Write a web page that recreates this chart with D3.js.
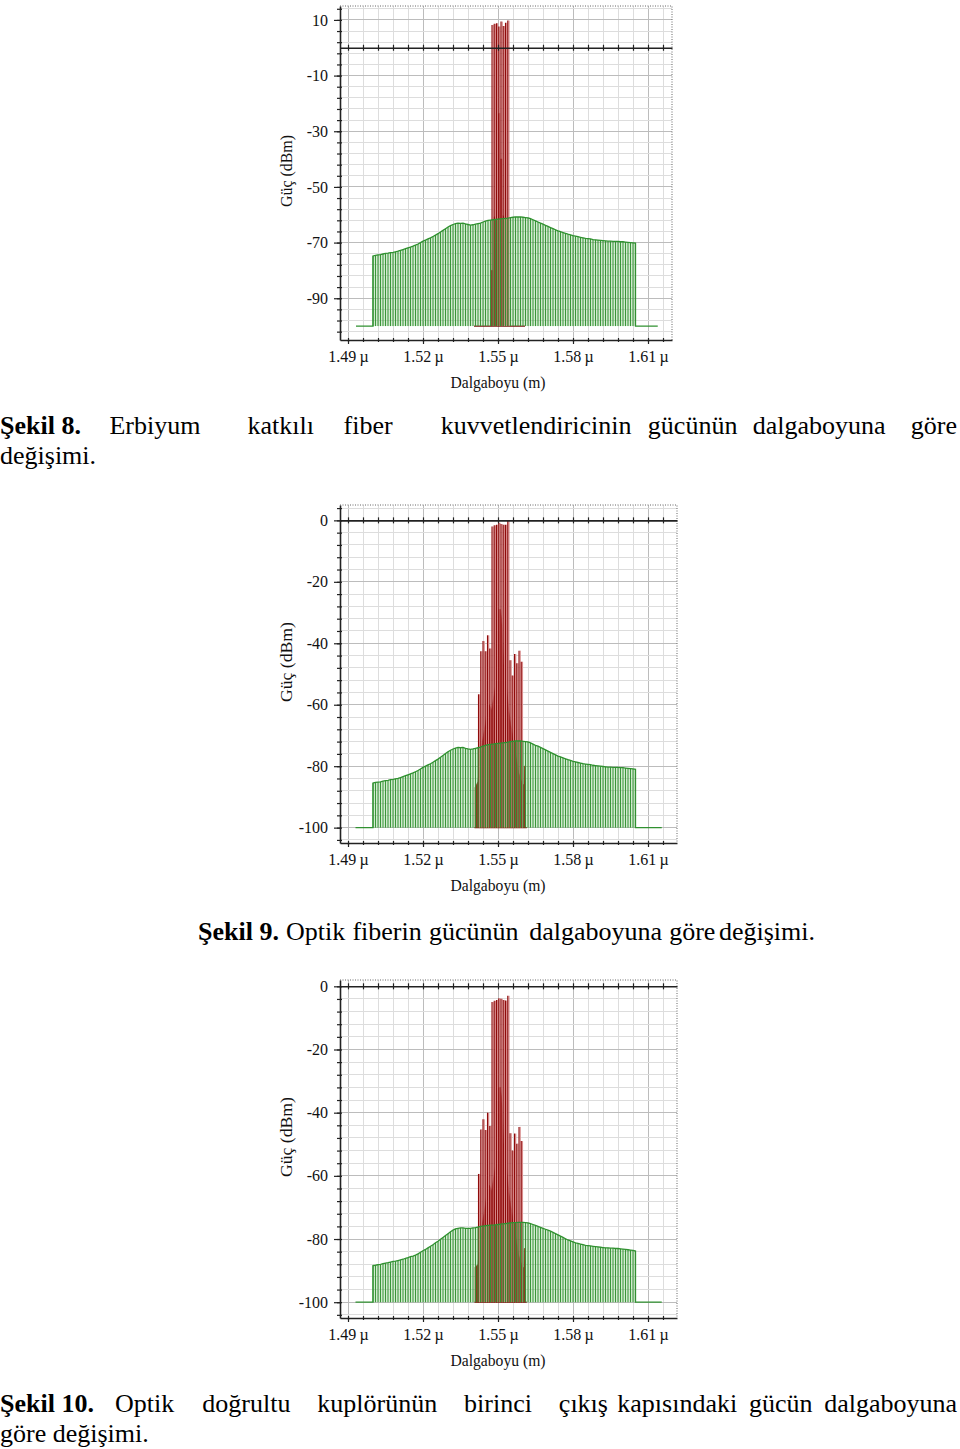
<!DOCTYPE html>
<html><head><meta charset="utf-8">
<script src="https://cdn.jsdelivr.net/npm/d3@7"></script>
<style>body{margin:0;background:#fff} svg{display:block}</style>
</head><body>
<svg id="root" width="960" height="1449"></svg>
<script>
// ---------------- DATA ----------------
// ASE (green) samples, 1 nm grid starting at 1500 nm
const greenStartNm = 1500;
const greenPower1 = [-74.8,-74.6,-74.4,-74.3,-74.1,-73.9,-73.8,-73.6,-73.5,-73.3,
 -73.1,-72.8,-72.5,-72.2,-71.9,-71.6,-71.3,-70.9,-70.5,-70.0,
 -69.5,-69.1,-68.7,-68.3,-67.8,-67.3,-66.8,-66.2,-65.6,-65.0,
 -64.4,-63.9,-63.5,-63.2,-63.0,-63.1,-63.0,-63.3,-63.5,-63.7,
 -63.6,-63.4,-63.2,-63.0,-62.6,-62.3,-62.0,-61.9,-61.8,-61.7,
 -61.6,-61.5,-61.4,-61.3,-61.2,-61.0,-60.9,-60.8,-60.8,-60.8,
 -60.9,-61.0,-61.1,-61.4,-61.8,-62.2,-62.6,-63.0,-63.4,-63.8,
 -64.2,-64.6,-65.0,-65.4,-65.8,-66.1,-66.4,-66.7,-67.0,-67.2,
 -67.5,-67.7,-67.9,-68.1,-68.3,-68.5,-68.6,-68.7,-68.9,-69.0,
 -69.1,-69.2,-69.3,-69.4,-69.5,-69.5,-69.6,-69.6,-69.6,-69.7,
 -69.7,-69.8,-69.9,-70.0,-70.1,-70.2];
const greenPower2 = [-85.5,-85.3,-85.2,-85.1,-84.9,-84.7,-84.6,-84.4,-84.3,-84.1,
 -84.0,-83.7,-83.4,-83.1,-82.8,-82.5,-82.2,-81.8,-81.4,-80.9,
 -80.4,-80.0,-79.6,-79.2,-78.7,-78.2,-77.7,-77.1,-76.5,-75.9,
 -75.3,-74.8,-74.4,-74.1,-73.9,-74.0,-73.9,-74.2,-74.4,-74.5,
 -74.4,-74.2,-74.0,-73.8,-73.5,-73.2,-73.0,-72.9,-72.8,-72.7,
 -72.6,-72.5,-72.4,-72.3,-72.2,-72.0,-71.9,-71.8,-71.8,-71.8,
 -71.9,-72.0,-72.1,-72.4,-72.8,-73.2,-73.5,-73.9,-74.3,-74.7,
 -75.1,-75.5,-75.9,-76.3,-76.7,-77.0,-77.3,-77.6,-77.9,-78.1,
 -78.4,-78.6,-78.8,-79.0,-79.2,-79.3,-79.4,-79.5,-79.7,-79.8,
 -79.9,-80.0,-80.1,-80.2,-80.3,-80.3,-80.4,-80.4,-80.4,-80.5,
 -80.5,-80.6,-80.7,-80.8,-80.9,-81.0];
const greenPower3 = [-88.4,-88.3,-88.1,-88.0,-87.8,-87.6,-87.5,-87.3,-87.1,-87.0,
 -86.8,-86.6,-86.4,-86.1,-85.9,-85.6,-85.4,-85.1,-84.7,-84.2,
 -83.7,-83.3,-82.8,-82.3,-81.8,-81.2,-80.7,-80.1,-79.5,-78.9,
 -78.3,-77.7,-77.2,-76.8,-76.6,-76.5,-76.5,-76.6,-76.6,-76.6,
 -76.5,-76.4,-76.2,-76.0,-75.9,-75.8,-75.7,-75.6,-75.6,-75.5,
 -75.4,-75.3,-75.2,-75.1,-75.0,-74.9,-74.8,-74.8,-74.7,-74.7,
 -74.7,-74.8,-74.9,-75.1,-75.4,-75.7,-76.0,-76.3,-76.6,-76.9,
 -77.2,-77.5,-77.9,-78.3,-78.7,-79.1,-79.5,-79.9,-80.3,-80.6,
 -80.9,-81.2,-81.4,-81.6,-81.8,-82.0,-82.1,-82.2,-82.3,-82.4,
 -82.5,-82.6,-82.7,-82.8,-82.8,-82.9,-82.9,-83.0,-83.0,-83.1,
 -83.2,-83.3,-83.4,-83.5,-83.6,-83.8];

// Signal channels and FWM products (red lines), nm
const lineWl = [1542.2,1543.1,1544.0,1544.9,1545.8,1546.7,1547.6,1548.5,1549.4,1550.3,
 1551.2,1552.1,1553.0,1553.9,1554.8,1555.7,1556.6,1557.5,1558.4,1559.3];
const linePower1 = [null,null,null,null,null,null,8.2,8.6,8.8,7.6,9.4,7.8,9.0,9.8,null,null,null,null,null,null];
const linePower2 = [-56.6,-42.6,-39.3,-42.6,-37.4,-41.7,-2.0,-1.6,-1.4,-0.8,-1.2,-1.4,-1.4,-0.2,-45.5,-50.5,-43.5,-46.5,-42.4,-46.0];
const linePower3 = [-59.4,-45.3,-42.1,-45.5,-40.0,-44.2,-5.0,-4.6,-4.3,-3.8,-3.9,-4.3,-4.5,-3.0,-46.5,-52.0,-46.6,-49.8,-44.5,-49.0];

// Modulated signal pedestal outline [nm, dBm]
const pedestal1 = [[1547.3,-100],[1547.3,-80],[1548.3,-80],[1548.4,-61],[1549.4,-60],[1549.5,-24],[1550.7,-23.5],[1550.8,-40],[1551.6,-40],[1551.7,-60],[1552.8,-61],[1552.8,-100]];
const pedestal2 = [[1540.8,-100],[1540.8,-87],[1542.0,-85],[1542.6,-80],[1543.4,-74],[1544.2,-70],[1545.0,-66],[1545.8,-61],[1546.6,-60],[1547.4,-62],[1548.2,-58],[1549.0,-54],[1549.8,-44],[1550.3,-29],[1551.0,-29],[1551.6,-34],[1552.2,-46],[1552.9,-50],[1553.6,-56],[1554.3,-62],[1555.0,-66],[1555.8,-70],[1556.6,-74],[1557.4,-78],[1558.2,-82],[1559.0,-84],[1559.8,-86],[1560.4,-86],[1560.5,-80],[1560.9,-80],[1561.0,-100]];
const pedestal3 = [[1540.8,-100],[1540.8,-89],[1542.0,-88],[1542.6,-83],[1543.4,-77],[1544.2,-73],[1545.0,-69],[1545.8,-64],[1546.6,-63],[1547.4,-65],[1548.2,-61],[1549.0,-57],[1549.8,-47],[1550.3,-32],[1551.0,-32],[1551.6,-37],[1552.2,-49],[1552.9,-53],[1553.6,-59],[1554.3,-65],[1555.0,-69],[1555.8,-73],[1556.6,-77],[1557.4,-81],[1558.2,-85],[1559.0,-87],[1559.8,-89],[1560.4,-89],[1560.5,-83],[1560.9,-83],[1561.0,-100]];

const redFloor1 = [1540.4, 1560.8];
const redFloor23 = [1540.6, 1561.5];
const greenFloor1 = [1493.2, 1613.9];
const greenFloor23 = [1493.0, 1615.5];
const floorPower = -100;

const xTickValues = [1490, 1520, 1550, 1580, 1610];
const xTickLabels = ["1.49\u2009µ", "1.52\u2009µ", "1.55\u2009µ", "1.58\u2009µ", "1.61\u2009µ"];
const yTicks1 = [10, -10, -30, -50, -70, -90];
const yTicks23 = [0, -20, -40, -60, -80, -100];
const xTitle = "Dalgaboyu (m)";
const yTitle = "Güç (dBm)";

const cap1Line1 = ["Şekil 8.", "Erbiyum", "katkılı", "fiber", "kuvvetlendiricinin", "gücünün", "dalgaboyuna", "göre"];
const cap1Line2 = ["değişimi."];
const cap2Line1 = ["Şekil 9.", "Optik", "fiberin", "gücünün", "dalgaboyuna", "göre", "değişimi."];
const cap3Line1 = ["Şekil 10.", "Optik", "doğrultu", "kuplörünün", "birinci", "çıkış", "kapısındaki", "gücün", "dalgaboyuna"];
const cap3Line2 = ["göre", "değişimi."];

// ---------------- DRAW ----------------
const svg = d3.select("#root");
const SERIF = "'Liberation Serif','Times New Roman',serif";

const charts = [
  {top:6, bottom:340, left:340, right:672, yDom:[-105,15], xDom:[1486.8,1619.6], green:greenPower1, lines:linePower1,
   ped:pedestal1, redFloor:redFloor1, greenFloor:greenFloor1, yTicks:yTicks1, yGridTop:14, yTitleY:171, yTitleLen:72},
  {top:505, bottom:843, left:340, right:677, yDom:[-105,5], xDom:[1486.8,1621.6], green:greenPower2, lines:linePower2,
   ped:pedestal2, redFloor:redFloor23, greenFloor:greenFloor23, yTicks:yTicks23, yGridTop:4, yTitleY:662, yTitleLen:80},
  {top:980, bottom:1318, left:340, right:677, yDom:[-105,2], xDom:[1486.8,1621.6], green:greenPower3, lines:linePower3,
   ped:pedestal3, redFloor:redFloor23, greenFloor:greenFloor23, yTicks:yTicks23, yGridTop:0, yTitleY:1137, yTitleLen:80}
];

charts.forEach(c => drawChart(c));

function drawChart(c) {
  const x = d3.scaleLinear().domain(c.xDom).range([c.left, c.right]);
  const y = d3.scaleLinear().domain(c.yDom).range([c.bottom, c.top]);
  const g = svg.append("g");

  // grid
  const xGrid = d3.range(1490, c.xDom[1], 6);
  const yGrid = d3.range(c.yGridTop, c.yDom[0], -4);
  const grid = g.append("g").attr("shape-rendering", "crispEdges");
  grid.selectAll(".vx").data(xGrid).join("line")
    .attr("x1", d => x(d)).attr("x2", d => x(d)).attr("y1", c.top).attr("y2", c.bottom)
    .attr("stroke", d => xTickValues.includes(d) ? "#bcbcbc" : "#dddddd");
  grid.selectAll(".hy").data(yGrid).join("line")
    .attr("y1", d => y(d)).attr("y2", d => y(d)).attr("x1", c.left).attr("x2", c.right)
    .attr("stroke", d => c.yTicks.includes(d) ? "#bcbcbc" : "#dddddd");

  // red floor
  g.append("line").attr("x1", x(c.redFloor[0])).attr("x2", x(c.redFloor[1]))
    .attr("y1", y(floorPower)).attr("y2", y(floorPower)).attr("stroke", "#7a1010").attr("stroke-width", 1.2);
  // red pedestal
  g.append("path").datum(c.ped)
    .attr("d", d3.line().x(d => x(d[0])).y(d => y(d[1])))
    .attr("fill", "#950404").attr("stroke", "#8b0000").attr("stroke-width", 0.6);
  // red lines
  const red = c.lines.map((p, i) => ({wl: lineWl[i], p})).filter(d => d.p !== null);
  g.selectAll(".rp").data(red).join("rect")
    .attr("x", d => x(d.wl) + 0.5).attr("width", 1.3)
    .attr("y", d => y(d.p)).attr("height", d => y(floorPower) - y(d.p))
    .attr("fill", "#d98e8e");
  g.selectAll(".rl").data(red).join("line")
    .attr("x1", d => x(d.wl)).attr("x2", d => x(d.wl))
    .attr("y1", d => y(d.p)).attr("y2", y(floorPower))
    .attr("stroke", "#8e0a0a").attr("stroke-width", 1.1);

  // green ASE
  const gd = c.green.map((p, i) => ({wl: greenStartNm + i, p}));
  g.append("path").datum(gd)
    .attr("d", d3.area().x(d => x(d.wl)).y0(y(floorPower)).y1(d => y(d.p)))
    .attr("fill", "rgb(115,190,105)").attr("fill-opacity", 0.32);
  g.selectAll(".gl").data(gd).join("line")
    .attr("x1", d => x(d.wl)).attr("x2", d => x(d.wl))
    .attr("y1", d => y(d.p)).attr("y2", y(floorPower))
    .attr("stroke", "rgb(48,145,48)").attr("stroke-width", 0.95);
  const env = [{wl: c.greenFloor[0], p: floorPower}, {wl: greenStartNm, p: floorPower}]
    .concat(gd)
    .concat([{wl: gd[gd.length - 1].wl, p: floorPower}, {wl: c.greenFloor[1], p: floorPower}]);
  g.append("path").datum(env)
    .attr("d", d3.line().x(d => x(d.wl)).y(d => y(d.p)))
    .attr("fill", "none").attr("stroke", "rgb(48,145,48)").attr("stroke-width", 1.3);

  // dotted top/right border
  g.append("path")
    .attr("d", `M${c.left},${c.top}H${c.right}V${c.bottom}`)
    .attr("fill", "none").attr("stroke", "#666").attr("stroke-dasharray", "1,1.5");

  // zero line with crossing ticks
  const zero = g.append("g").attr("transform", `translate(0,${y(0)})`)
    .call(d3.axisBottom(x).tickValues(xGrid).tickSize(3).tickSizeOuter(0).tickFormat(""));
  zero.select(".domain").attr("stroke", "#222").attr("stroke-width", 1.6);
  zero.selectAll(".tick line").attr("y1", -3).attr("stroke", "#222").attr("stroke-width", 1.2);

  // bottom axis: minor crossing ticks then labelled major ticks
  const bMinor = g.append("g").attr("transform", `translate(0,${c.bottom})`)
    .call(d3.axisBottom(x).tickValues(xGrid).tickSize(2).tickSizeOuter(0).tickFormat(""));
  bMinor.select(".domain").attr("stroke", "#222").attr("stroke-width", 1.6);
  bMinor.selectAll(".tick line").attr("y1", -2).attr("stroke", "#222").attr("stroke-width", 1.2);
  const bMajor = g.append("g").attr("transform", `translate(0,${c.bottom})`)
    .call(d3.axisBottom(x).tickValues(xTickValues).tickSize(4).tickPadding(7).tickSizeOuter(0)
      .tickFormat((d, i) => xTickLabels[i]));
  bMajor.select(".domain").remove();
  bMajor.selectAll(".tick line").attr("stroke", "#222").attr("stroke-width", 1.2);
  bMajor.selectAll("text").attr("font-family", SERIF).attr("font-size", 16).attr("fill", "#111");

  // left axis
  const lMinor = g.append("g").attr("transform", `translate(${c.left},0)`)
    .call(d3.axisLeft(y).tickValues(yGrid).tickSize(3).tickSizeOuter(0).tickFormat(""));
  lMinor.select(".domain").attr("stroke", "#222").attr("stroke-width", 1.6);
  lMinor.selectAll(".tick line").attr("x1", 2).attr("stroke", "#222").attr("stroke-width", 1.2);
  const lMajor = g.append("g").attr("transform", `translate(${c.left},0)`)
    .call(d3.axisLeft(y).tickValues(c.yTicks).tickSize(6).tickPadding(6).tickSizeOuter(0).tickFormat(d => d));
  lMajor.select(".domain").remove();
  lMajor.selectAll(".tick line").attr("stroke", "#222").attr("stroke-width", 1.2);
  lMajor.selectAll("text").attr("font-family", SERIF).attr("font-size", 16).attr("fill", "#111");

  // titles
  g.append("text").attr("x", (x(1490) + x(1610)) / 2).attr("y", c.bottom + 48)
    .attr("text-anchor", "middle").attr("font-family", SERIF).attr("font-size", 16)
    .attr("textLength", 95).attr("lengthAdjust", "spacingAndGlyphs").attr("fill", "#111").text(xTitle);
  g.append("text").attr("transform", `translate(${292},${c.yTitleY}) rotate(-90)`)
    .attr("text-anchor", "middle").attr("font-family", SERIF).attr("font-size", 16)
    .attr("textLength", c.yTitleLen).attr("lengthAdjust", "spacingAndGlyphs").attr("fill", "#111").text(yTitle);
}

// ---------------- CAPTIONS ----------------
const capG = svg.append("g").attr("font-family", SERIF).attr("font-size", 26).attr("fill", "#000");
function justify(words, x0, x1, baseline, weights, boldFirst) {
  const nodes = words.map((w, i) => capG.append("text").attr("y", baseline)
    .attr("font-weight", (i === 0 && boldFirst) ? "bold" : "normal").text(w));
  const widths = nodes.map(n => n.node().getComputedTextLength());
  const extra = (x1 - x0) - d3.sum(widths);
  const wsum = d3.sum(weights);
  let xx = x0;
  nodes.forEach((n, i) => {
    n.attr("x", xx);
    xx += widths[i] + (i < weights.length ? extra * weights[i] / wsum : 0);
  });
}
function plain(words, x0, baseline, boldFirst) {
  const t = capG.append("text").attr("x", x0).attr("y", baseline);
  words.forEach((w, i) => t.append("tspan").attr("font-weight", (i === 0 && boldFirst) ? "bold" : "normal")
    .text((i ? " " : "") + w));
}
justify(cap1Line1, 0, 957, 434, [26, 43, 27, 44, 15, 14, 23], true);
plain(cap1Line2, 0, 464, false);
justify(cap2Line1, 198, 815, 940, [2, 2, 2, 3, 2, 1], true);
justify(cap3Line1, 0, 957, 1412, [18, 24, 23, 23, 23, 8, 10, 10], true);
plain(cap3Line2, 0, 1442, false);
</script>
</body></html>
